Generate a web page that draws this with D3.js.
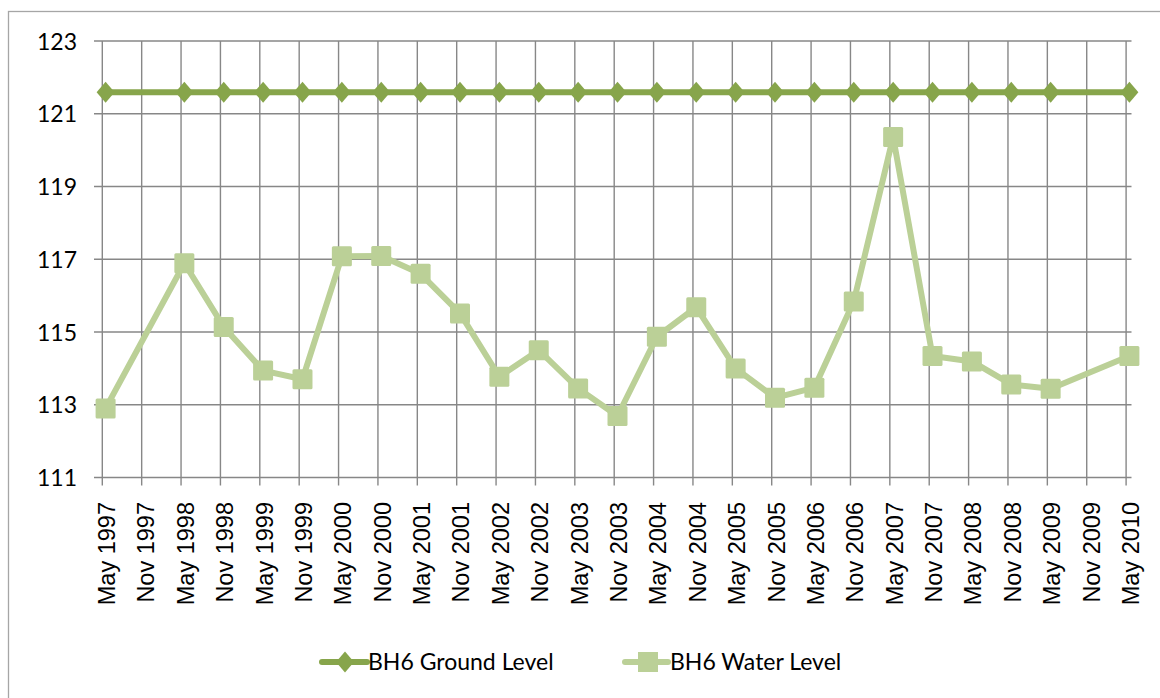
<!DOCTYPE html>
<html>
<head>
<meta charset="utf-8">
<script src="https://cdn.jsdelivr.net/npm/d3@7"></script>
<style>
  html, body { margin: 0; padding: 0; background: #fff; }
  svg { display: block; }
</style>
</head>
<body>
<svg id="chart" width="1160" height="698"></svg>
<script>
const categories = ["May 1997","Nov 1997","May 1998","Nov 1998","May 1999","Nov 1999","May 2000","Nov 2000","May 2001","Nov 2001","May 2002","Nov 2002","May 2003","Nov 2003","May 2004","Nov 2004","May 2005","Nov 2005","May 2006","Nov 2006","May 2007","Nov 2007","May 2008","Nov 2008","May 2009","Nov 2009","May 2010"];
const groundLevel = [121.59,null,121.59,121.59,121.59,121.59,121.59,121.59,121.59,121.59,121.59,121.59,121.59,121.59,121.59,121.59,121.59,121.59,121.59,121.59,121.59,121.59,121.59,121.59,121.59,null,121.59];
const waterLevel = [112.90,null,116.89,115.14,113.94,113.70,117.08,117.09,116.60,115.51,113.77,114.50,113.45,112.69,114.87,115.68,114.00,113.19,113.47,115.84,120.36,114.34,114.19,113.56,113.44,null,114.34];
const yTicks = [111,113,115,117,119,121,123];
const seriesNames = ["BH6 Ground Level","BH6 Water Level"];
const colors = ["#87a54b","#bbd097"];

const svg = d3.select("#chart");
const gridColor = "#878787";

// chart border
svg.append("rect").attr("x",8.5).attr("y",11.5).attr("width",1170).attr("height",720)
  .attr("fill","none").attr("stroke","#a6a6a6").attr("stroke-width",1.3);

const x = d3.scalePoint().domain(categories).range([105.6, 1129.4]);
const y = d3.scaleLinear().domain([111,123]).range([477.5, 41]);
const gridShift = -3.3;

// horizontal gridlines
svg.append("g").selectAll("line").data(yTicks).join("line")
  .attr("x1",94).attr("x2",1131.5)
  .attr("y1",d=>y(d)).attr("y2",d=>y(d))
  .attr("stroke",gridColor).attr("stroke-width",1.4);

// vertical gridlines (and x tick marks)
svg.append("g").selectAll("line").data(categories).join("line")
  .attr("x1",d=>x(d)+gridShift).attr("x2",d=>x(d)+gridShift)
  .attr("y1",y(123)).attr("y2",y(111)+8)
  .attr("stroke",gridColor).attr("stroke-width",1.4);

// y axis labels
const yAxis = d3.axisLeft(y).tickValues(yTicks).tickSize(0).tickPadding(0).tickFormat(d3.format("d"));
const gy = svg.append("g").attr("transform","translate(77,0)").call(yAxis);
gy.select(".domain").remove();
gy.selectAll("text").attr("font-family","Lato, 'Open Sans', sans-serif").attr("font-size",23).attr("fill","#000").attr("dy","0.35em");

// x axis labels
const xAxis = d3.axisBottom(x).tickSize(0).tickPadding(0);
const gx = svg.append("g").attr("transform","translate(0,502)").call(xAxis);
gx.select(".domain").remove();
gx.selectAll("text")
  .attr("font-family","'Liberation Sans', Arial, sans-serif").attr("font-size",23.5).attr("fill","#000")
  .attr("text-anchor","end").attr("dy",null).attr("y",0).attr("x",0)
  .attr("transform","rotate(-90) translate(0,9)");

const line = d3.line().x(d=>x(d.c)).y(d=>y(d.v));
function pts(arr){ return categories.map((c,i)=>({c, v:arr[i]})).filter(d=>d.v!=null); }

const gData = pts(groundLevel), wData = pts(waterLevel);

// water level
svg.append("path").datum(wData).attr("d",line).attr("fill","none")
  .attr("stroke",colors[1]).attr("stroke-width",6).attr("stroke-linejoin","round");
svg.append("g").selectAll("rect").data(wData).join("rect")
  .attr("x",d=>x(d.c)-10).attr("y",d=>y(d.v)-10).attr("width",20).attr("height",20)
  .attr("rx",1.5).attr("fill",colors[1]);

// ground level
svg.append("path").datum(gData).attr("d",line).attr("fill","none")
  .attr("stroke",colors[0]).attr("stroke-width",6);
const diamond = "M0,-10.5L9,0L0,10.5L-9,0Z";
svg.append("g").selectAll("path").data(gData).join("path")
  .attr("transform",d=>`translate(${x(d.c)},${y(d.v)})`).attr("d",diamond).attr("fill",colors[0]);

// legend
const legend = svg.append("g").attr("transform","translate(0,662)");
const lg1 = legend.append("g");
lg1.append("line").attr("x1",322).attr("x2",367).attr("y1",0).attr("y2",0).attr("stroke",colors[0]).attr("stroke-width",6).attr("stroke-linecap","round");
lg1.append("path").attr("transform","translate(345,0)").attr("d",diamond).attr("fill",colors[0]);
lg1.append("text").attr("x",368).attr("y",0).attr("dy","0.35em").text(seriesNames[0])
  .attr("font-family","Lato, 'Open Sans', sans-serif").attr("font-size",23).attr("fill","#000");
const lg2 = legend.append("g");
lg2.append("line").attr("x1",625).attr("x2",668).attr("y1",0).attr("y2",0).attr("stroke",colors[1]).attr("stroke-width",6).attr("stroke-linecap","round");
lg2.append("rect").attr("x",638).attr("y",-10).attr("width",20).attr("height",20).attr("fill",colors[1]);
lg2.append("text").attr("x",670).attr("y",0).attr("dy","0.35em").text(seriesNames[1])
  .attr("font-family","Lato, 'Open Sans', sans-serif").attr("font-size",23).attr("fill","#000");
</script>
</body>
</html>
